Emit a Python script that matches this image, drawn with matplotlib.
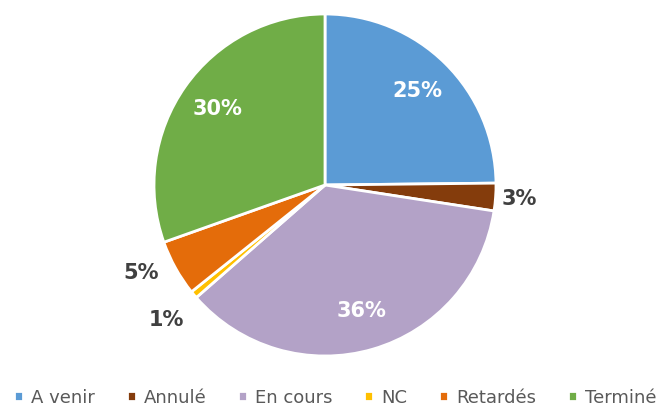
import numpy as np
import matplotlib
matplotlib.use("Agg")
import matplotlib.pyplot as plt

categories = ["A venir", "Annulé", "En cours", "NC", "Retardés", "Terminé"]
shares = [24.8, 2.6, 36.1, 0.7, 5.3, 30.4]
colors = ["#5B9BD5", "#843C0C", "#B3A2C7", "#FFC000", "#E46C0A", "#70AD47"]

fig = plt.figure(figsize=(6.64, 4.12), dpi=100)

# axes placed so the pie centre sits at (325, 185) px with radius ~171 px
span = 1.3
size_px = 2 * span * 171
ax = fig.add_axes([(325 - size_px / 2) / 664, (412 - 185 - size_px / 2) / 412,
                   size_px / 664, size_px / 412])

wedges, texts, autotexts = ax.pie(
    shares, colors=colors, startangle=90, counterclock=False,
    autopct="%.0f%%", pctdistance=0.77,
    wedgeprops=dict(edgecolor="white", linewidth=2.0),
    textprops=dict(fontsize=15, fontweight="bold", color="white"),
)
ax.set_xlim(-span, span)
ax.set_ylim(-span, span)
ax.set_aspect("equal")
ax.axis("off")

# small slices get their labels outside, in dark grey
outside = {1: (1.14, 0), 3: (1.22, 0.5), 4: (1.19, -3.5)}
for i, (r, shift) in outside.items():
    w = wedges[i]
    mid = np.deg2rad((w.theta1 + w.theta2) / 2 + shift)
    autotexts[i].set_position((r * np.cos(mid), r * np.sin(mid)))
    autotexts[i].set_color("#404040")

fig.legend(wedges, categories, loc="center", bbox_to_anchor=(0.505, 0.035),
           ncol=6, frameon=False, fontsize=13, handlelength=0.5,
           handleheight=0.5, handletextpad=0.45, columnspacing=1.75,
           labelcolor="#595959")

fig.savefig("out.png", dpi=100)
